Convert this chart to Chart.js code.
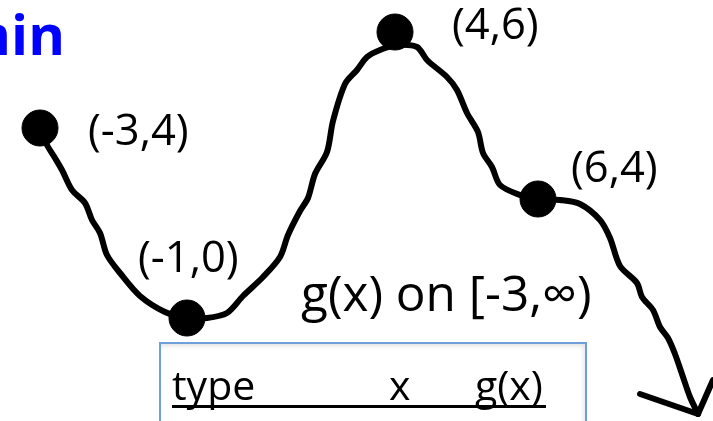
<!DOCTYPE html>
<html>
<head>
<meta charset="utf-8">
<script src="https://cdn.jsdelivr.net/npm/chart.js@4.4.1/dist/chart.umd.min.js"></script>
<style>
  html, body { margin: 0; padding: 0; background: #fff; }
  #wrap { position: relative; width: 713px; height: 421px; overflow: hidden; font-family: "Open Sans", sans-serif; }
  #sketch { position: absolute; left: 0; top: 0; }
  .txt { position: absolute; white-space: nowrap; line-height: 1; color: #000; }
  #title { right: 648px; top: 5px; font-size: 56px; font-weight: bold; color: #0000ff; }
  #caption { left: 301px; top: 268px; font-size: 49.5px; }
  .pt { font-size: 43.5px; }
  #table { position: absolute; left: 159px; top: 342px; width: 424px; height: 120px;
           border: 2px solid #6f9fd8; box-shadow: inset -3px 4px 5px -2px rgba(0,0,0,0.12); }
  .th { font-size: 41px; top: 364px; }
  #rule { position: absolute; left: 172px; top: 405px; width: 374px; height: 3px; background: #000; }
</style>
</head>
<body>
<div id="wrap">
  <canvas id="sketch" width="713" height="421"></canvas>
  <div class="txt" id="title">min</div>
  <div class="txt" id="caption">g(x) on [-3,∞)</div>
  <div id="table"></div>
  <div class="txt th" style="left:172px">type</div>
  <div class="txt th" style="left:389px">x</div>
  <div class="txt th" style="left:475px">g(x)</div>
  <div id="rule"></div>
</div>
<script>
// hand-drawn curve, traced in sketch units (the drawing is not to scale)
const curveX = [40, 47, 55, 62, 72, 85, 92, 100, 107, 120, 140, 165, 187, 207, 227, 243, 263, 280, 288, 300,
                308, 315, 327, 333, 345, 357, 367, 380, 397, 417, 427, 447, 457, 467, 478, 483, 492, 500, 520, 538,
                560, 580, 600, 610, 620, 637, 642, 653, 660, 668, 675, 683, 690, 698];
const curveY = [128, 145, 158, 170, 190, 203, 220, 233, 255, 273, 296, 312, 318, 318, 313, 296, 277, 257, 235, 211,
                198, 174, 152, 121, 84, 70, 57, 50, 45, 47, 60, 77, 90, 113, 132, 153, 167, 185, 195, 199,
                200, 204, 220, 238, 266, 283, 297, 310, 327, 338, 354, 377, 397, 414];

// arrowhead at the end of the curve
const arrowX = [640, 698, 713];
const arrowY = [394, 414, 380];

// labelled points: their stated values and where they sit on the sketch
const keyX = [-3, -1, 4, 6];
const keyY = [4, 0, 6, 4];
const keySketchX = [40, 187, 395, 538];
const keySketchY = [128, 318, 32, 199];

// label box offsets from each dot
const labelDx = [48, -49, 57, 33];
const labelDy = [-21, -84, -31, -55];

const toPoints = (xs, ys) => xs.map((x, i) => ({ x: x, y: ys[i] }));

const pointLabels = {
    id: 'pointLabels',
    afterRender(chart) {
        const wrap = document.getElementById('wrap');
        const meta = chart.getDatasetMeta(2);
        meta.data.forEach((el, i) => {
            let div = document.getElementById('pl' + i);
            if (!div) {
                div = document.createElement('div');
                div.id = 'pl' + i;
                div.className = 'txt pt';
                div.textContent = `(${keyX[i]},${keyY[i]})`;
                wrap.appendChild(div);
            }
            div.style.left = (el.x + labelDx[i]) + 'px';
            div.style.top = (el.y + labelDy[i]) + 'px';
        });
    }
};

new Chart(document.getElementById('sketch').getContext('2d'), {
    type: 'scatter',
    data: {
        datasets: [
            {
                data: toPoints(curveX, curveY),
                showLine: true,
                tension: 0.3,
                borderColor: '#000',
                borderWidth: 6,
                borderCapStyle: 'round',
                borderJoinStyle: 'round',
                pointRadius: 0,
                clip: false
            },
            {
                data: toPoints(arrowX, arrowY),
                showLine: true,
                tension: 0,
                borderColor: '#000',
                borderWidth: 6,
                borderCapStyle: 'round',
                borderJoinStyle: 'round',
                pointRadius: 0,
                clip: false
            },
            {
                data: toPoints(keySketchX, keySketchY),
                showLine: false,
                pointRadius: 18,
                pointBackgroundColor: '#000',
                pointBorderColor: '#000',
                pointBorderWidth: 1,
                clip: false
            }
        ]
    },
    options: {
        responsive: false,
        animation: false,
        layout: { padding: 0, autoPadding: false },
        scales: {
            x: { type: 'linear', min: 0, max: 713, display: false },
            y: { type: 'linear', min: 0, max: 421, reverse: true, display: false }
        },
        plugins: {
            legend: { display: false },
            tooltip: { enabled: false }
        }
    },
    plugins: [pointLabels]
});
</script>
</body>
</html>
